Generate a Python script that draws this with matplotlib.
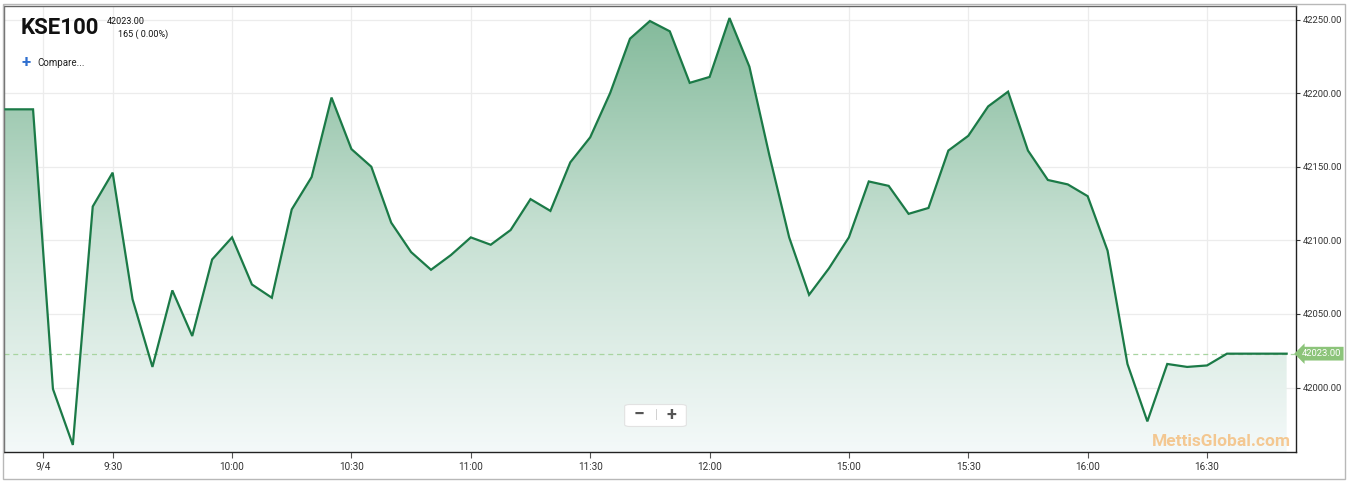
import numpy as np
import matplotlib
matplotlib.use("Agg")
import matplotlib.pyplot as plt
from matplotlib.patches import Rectangle, FancyBboxPatch
from matplotlib.colors import LinearSegmentedColormap
import matplotlib.transforms as mtransforms

plt.rcParams["font.family"] = ["Roboto", "DejaVu Sans"]

# KSE100 intraday values, one every 5 minutes (first two points lie left of the view)
values = [42189, 42189, 42189, 41999, 41961, 42123, 42146, 42060, 42014, 42066,
          42035, 42087, 42102, 42070, 42061, 42121, 42143, 42197, 42162, 42150,
          42112, 42092, 42080, 42090, 42102, 42097, 42107, 42128, 42120, 42153,
          42170, 42200, 42237, 42249, 42242, 42207, 42211, 42251, 42218, 42158,
          42102, 42063, 42081, 42102, 42140, 42137, 42118, 42122, 42161, 42171,
          42191, 42201, 42161, 42141, 42138, 42130, 42093, 42016, 41977, 42016,
          42014, 42015, 42023, 42023, 42023, 42023]
first_index = -2
last_value = 42023.00
change_text = "165 ( 0.00%)"

tick_pos = [0.5, 4, 10, 16, 22, 28, 34, 41, 47, 53, 59]
tick_labels = ["9/4", "9:30", "10:00", "10:30", "11:00", "11:30", "12:00",
               "15:00", "15:30", "16:00", "16:30"]
y_ticks = [42000, 42050, 42100, 42150, 42200, 42250]

line_color = "#1b7a47"

x = np.arange(len(values)) + first_index
y = np.array(values, dtype=float)

W, H = 1348, 482
fig = plt.figure(figsize=(W / 100, H / 100), dpi=100)
fig.patch.set_facecolor("white")

# outer frame
fig.patches.append(Rectangle((3 / W, 3 / H), (W - 6) / W, (H - 7) / H,
                             transform=fig.transFigure, fill=False,
                             edgecolor="#b8b8b8", linewidth=1.0))

ax = fig.add_axes([4 / W, 30 / H, (1296 - 4) / W, (452 - 6) / H])
ax.set_xlim(-1.46, 63.47)
ax.set_ylim(41956.2, 42259.2)

# grid
for t in y_ticks:
    ax.axhline(t, color="#ececec", linewidth=0.9, zorder=0)
for p in tick_pos:
    ax.axvline(p, color="#ececec", linewidth=0.9, zorder=0)

# gradient fill under the line
cmap = LinearSegmentedColormap.from_list("g", ["#f4f9f9", "#c6e0d2", "#80b898"])
grad = np.linspace(0, 1, 256).reshape(-1, 1)
ylo, yhi = ax.get_ylim()
xlo, xhi = ax.get_xlim()
im = ax.imshow(grad, aspect="auto", cmap=cmap, origin="lower",
               extent=[xlo, xhi, ylo, yhi], zorder=1)
poly = ax.fill_between(x, y, ylo, color="none", linewidth=0)
clip = poly.get_paths()[0]
im.set_clip_path(clip, transform=ax.transData)

ax.plot(x, y, color=line_color, linewidth=1.6, zorder=3, solid_joinstyle="miter")

# last value dashed line and tag
ax.axhline(last_value, color="#a8d4a0", linewidth=0.9, linestyle=(0, (4, 3)), zorder=2)
trans = mtransforms.blended_transform_factory(ax.transAxes, ax.transData)
ax.text(1.0045, last_value, f"{last_value:.2f}", transform=trans, ha="left", va="center",
        fontsize=6.8, color="white", clip_on=False,
        bbox=dict(boxstyle="larrow,pad=0.25", facecolor="#8cc47a", edgecolor="none"))

# axes styling
ax.yaxis.tick_right()
ax.set_yticks(y_ticks)
ax.set_yticklabels([f"{t:.2f}" for t in y_ticks])
ax.set_xticks(tick_pos)
ax.set_xticklabels(tick_labels)
ax.tick_params(axis="y", labelsize=6.8, colors="#333333", length=3, width=0.8, pad=2,
               labelcolor="#333333")
ax.tick_params(axis="x", labelsize=7.2, colors="#555555", length=4, width=0.8, pad=3,
               labelcolor="#333333")
for side in ["bottom", "right"]:
    ax.spines[side].set_color("#222222")
    ax.spines[side].set_linewidth(1.0)
ax.spines["left"].set_color("#666666")
ax.spines["top"].set_color("#666666")
ax.spines["top"].set_linewidth(1.0)
ax.spines["left"].set_linewidth(1.0)

# header texts
fig.text(21 / W, 1 - 28 / H, "KSE100", fontsize=16, fontweight="bold",
         color="#111111", va="center", ha="left")
fig.text(107 / W, 1 - 21 / H, f"{last_value:.2f}", fontsize=6.5, color="#111111",
         va="center", ha="left")
fig.text(118 / W, 1 - 34 / H, change_text, fontsize=6.5, color="#111111",
         va="center", ha="left")
fig.text(21 / W, 1 - 63 / H, "+", fontsize=12, fontweight="bold", color="#2f6fcf",
         va="center", ha="left")
fig.text(37 / W, 1 - 63 / H, "Compare...", fontsize=7, color="#222222",
         va="center", ha="left")

# zoom buttons
fig.patches.append(FancyBboxPatch((626 / W, 1 - 426 / H), 59 / W, 21 / H,
                                  boxstyle="round,pad=0.001,rounding_size=0.004",
                                  transform=fig.transFigure, facecolor="white",
                                  edgecolor="#e2e2e2", linewidth=0.8, zorder=5))
fig.text(639 / W, 1 - 415 / H, "\u2212", fontsize=14, fontweight="bold", color="#555555",
         ha="center", va="center", zorder=6)
fig.text(656 / W, 1 - 415 / H, "|", fontsize=9, color="#cccccc",
         ha="center", va="center", zorder=6)
fig.text(671 / W, 1 - 415 / H, "+", fontsize=13, fontweight="bold", color="#555555",
         ha="center", va="center", zorder=6)

# watermark
fig.text(1291 / W, 1 - 442 / H, "MettisGlobal.com", fontsize=12.5, fontweight="bold",
         color="#f5b870", alpha=0.75, ha="right", va="center", zorder=6)

fig.savefig("out.png", dpi=100, facecolor="white")
